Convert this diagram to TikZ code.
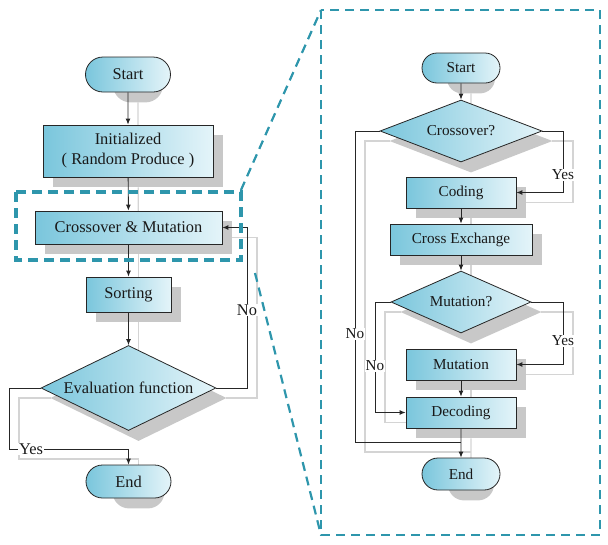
\documentclass[tikz,border=0pt]{standalone}
\usepackage{fontspec}
\setmainfont{Liberation Serif}
\usetikzlibrary{shapes.geometric,shapes.misc,arrows.meta,backgrounds}
\definecolor{tealc}{RGB}{46,150,172}
\definecolor{fillL}{RGB}{122,198,220}
\definecolor{fillR}{RGB}{228,244,249}
\definecolor{shad}{RGB}{200,200,200}
\definecolor{shline}{RGB}{212,212,212}
\tikzset{
  nbase/.style={draw=black!85, line width=0.8pt, left color=fillL, right color=fillR, text=black!90, inner sep=0pt},
  lfont/.style={font=\fontsize{16.4}{20}\selectfont},
  rfont/.style={font=\fontsize{15.2}{18}\selectfont},
  proc/.style={nbase, rectangle},
  termn/.style={nbase, rounded rectangle},
  decis/.style={nbase, diamond},
  conn/.style={draw=black!85, line width=0.9pt, -{Latex[length=6pt,width=5pt]}},
  shconn/.style={draw=shline, line width=1.2pt},
  lab/.style={fill=white, inner sep=1pt, text=black!90},
  bigdash/.style={draw=tealc, line width=2.2pt, dash pattern=on 9pt off 6pt},
  smalldash/.style={draw=tealc, line width=3.6pt, dash pattern=on 10pt off 6pt},
}
\newcommand{\MyShBox}[1]{\fill[shad] ([shift={(10,10)}]#1.south west) rectangle ([shift={(10,10)}]#1.north east);}
\newcommand{\MyShTerm}[2]{\fill[shad, rounded corners=#2] ([shift={(10,10)}]#1.south west) rectangle ([shift={(10,10)}]#1.north east);}
\newcommand{\MyShDia}[1]{\fill[shad] ([shift={(10,10)}]#1.north) -- ([shift={(10,10)}]#1.east) -- ([shift={(10,10)}]#1.south) -- ([shift={(10,10)}]#1.west) -- cycle;}
\newcommand{\MyConns}[1]{%
  \draw[#1] (s1) -- (i1);
  \draw[#1] (i1) -- (cm);
  \draw[#1] (cm) -- (so);
  \draw[#1] (so) -- (ev);
  \draw[#1] (ev.east) -| (noc) -- (cm.east);
  \draw[#1] (ev.west) -| (yesc) -| (e1.north);
  \draw[#1] (s2) -- (d1);
  \draw[#1] (d1.east) -| (y1c) -- (cod.east);
  \draw[#1] (cod) -- (cx);
  \draw[#1] (cx) -- (d2);
  \draw[#1] (d2.east) -| (y2c) -- (mu.east);
  \draw[#1] (mu) -- (dc);
  \draw[#1] (d2.west) -| (n2c) -- (dc.west);
  \draw[#1,-] (d1.west) -| (n1c) -- (joinc);
  \draw[#1] (dc) -- (e2);
}
\begin{document}
\begin{tikzpicture}[x=1pt,y=-1pt]
\useasboundingbox (0,0) rectangle (608,544);
% left chart
\node[termn, lfont, minimum width=85pt, minimum height=35pt] (s1) at (128,74.5) {Start};
\node[proc, lfont, align=center, minimum width=170pt, minimum height=52pt] (i1) at (128,151) {Initialized\\( Random Produce )};
\node[proc, lfont, minimum width=187pt, minimum height=33pt] (cm) at (128.5,227.5) {Crossover \& Mutation};
\node[proc, lfont, minimum width=85pt, minimum height=35pt] (so) at (128.5,294.5) {Sorting};
\node[decis, lfont, aspect=2.06, minimum width=175pt, minimum height=85pt] (ev) at (128.5,388) {Evaluation function};
\node[termn, lfont, minimum width=85pt, minimum height=33pt] (e1) at (128.5,481.5) {End};
\coordinate (noc) at (247,227.5);
\coordinate (yesc) at (9,449);
% right chart
\node[termn, rfont, minimum width=78pt, minimum height=30pt] (s2) at (461,68) {Start};
\node[decis, rfont, aspect=2.6, minimum width=162pt, minimum height=62pt] (d1) at (461,131) {Crossover?};
\node[proc, rfont, minimum width=110pt, minimum height=31pt] (cod) at (461,192.5) {Coding};
\node[proc, rfont, minimum width=142pt, minimum height=31pt] (cx) at (461,239.5) {Cross Exchange};
\node[decis, rfont, aspect=2.26, minimum width=140pt, minimum height=62pt] (d2) at (461,302) {Mutation?};
\node[proc, rfont, minimum width=110pt, minimum height=31pt] (mu) at (461,364.5) {Mutation};
\node[proc, rfont, minimum width=110pt, minimum height=31pt] (dc) at (461,412.5) {Decoding};
\node[termn, rfont, minimum width=78pt, minimum height=32pt] (e2) at (461,474) {End};
\coordinate (y1c) at (563,192.5);
\coordinate (y2c) at (563,364.5);
\coordinate (n2c) at (375,412.5);
\coordinate (n1c) at (355,442);
\coordinate (joinc) at (461,442);
% shadows
\begin{pgfonlayer}{background}
  \begin{scope}[transform canvas={shift={(10pt,-10pt)}}]
    \MyConns{shconn}
  \end{scope}
  \MyShTerm{s1}{17.5pt}
  \MyShBox{i1}
  \MyShBox{cm}
  \MyShBox{so}
  \MyShDia{ev}
  \MyShTerm{e1}{16.5pt}
  \MyShTerm{s2}{15pt}
  \MyShDia{d1}
  \MyShBox{cod}
  \MyShBox{cx}
  \MyShDia{d2}
  \MyShBox{mu}
  \MyShBox{dc}
  \MyShTerm{e2}{16pt}
\end{pgfonlayer}
% connectors
\MyConns{conn}
% labels
\node[lab, lfont] (lno) at (247,310) {No};
\node[lab, lfont] (lyes) at (31,449) {Yes};
\node[lab, rfont] (ryes1) at (563,175) {Yes};
\node[lab, rfont] (ryes2) at (563,341) {Yes};
\node[lab, rfont] (rno2) at (375,366) {No};
\node[lab, rfont] (rno1) at (355,334) {No};
% dashed zoom frames
\coordinate (sa) at (16,192);
\coordinate (sb) at (241,260);
\coordinate (ba) at (321,10);
\coordinate (bb) at (600,535);
\coordinate (bl) at (321,535);
\coordinate (dlow) at (255,273);
\draw[smalldash] (sa) rectangle (sb);
\draw[bigdash] (ba) rectangle (bb);
\draw[bigdash] (241,190) -- (ba);
\draw[bigdash] (dlow) -- (bl);
\end{tikzpicture}
\end{document}
